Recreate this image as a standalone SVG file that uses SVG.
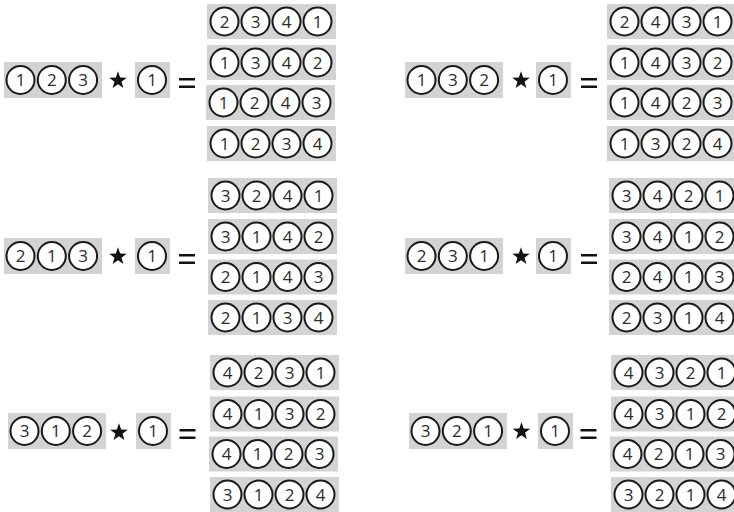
<svg xmlns="http://www.w3.org/2000/svg" xmlns:xlink="http://www.w3.org/1999/xlink" width="734" height="512" viewBox="0 0 734 512">
<style>
.bx{fill:#d2d3d5}
.c{fill:#fff;stroke:#1a1a1a;stroke-width:2}
.t{font-family:"Open Sans","Noto Sans","DejaVu Sans",sans-serif;font-size:17px;fill:#2b2b2b;text-anchor:middle}
.k{fill:#111}
</style>
<defs>
<g id="ring4"><rect class="bx" width="129" height="35"/><circle class="c" cx="17.5" cy="17.5" r="14"/><circle class="c" cx="48.5" cy="17.5" r="14"/><circle class="c" cx="79.5" cy="17.5" r="14"/><circle class="c" cx="110.5" cy="17.5" r="14"/></g>
<g id="ring3"><rect class="bx" width="98" height="36"/><circle class="c" cx="16.5" cy="18" r="14"/><circle class="c" cx="47.8" cy="18" r="14"/><circle class="c" cx="79.1" cy="18" r="14"/></g>
<g id="ring1"><rect class="bx" width="35" height="36"/><circle class="c" cx="17" cy="18" r="14"/></g>
<path id="star" class="k" d="M0,-9.2 L2.16,-2.98 L8.75,-2.84 L3.5,1.14 L5.4,7.44 L0,3.68 L-5.4,7.44 L-3.5,1.14 L-8.75,-2.84 L-2.16,-2.98 Z"/>
<g id="eq"><rect class="k" x="-8" y="-5" width="16" height="2.5"/><rect class="k" x="-8" y="2.5" width="16" height="2.5"/></g>
</defs>

<g id="eq123">
<g id="n123" transform="translate(4,62)"><use href="#ring3"/><text class="t" x="16.5 47.8 79.1" y="24">123</text></g>
<use href="#star" x="118" y="80.5"/>
<g id="n123-1" transform="translate(135,62)"><use href="#ring1"/><text class="t" x="17" y="24">1</text></g>
<use href="#eq" x="187" y="83"/>
<g id="r2341" transform="translate(207,4)"><use href="#ring4"/><text class="t" x="17.5 48.5 79.5 110.5" y="23.5">2341</text></g>
<g id="r1342" transform="translate(207,45)"><use href="#ring4"/><text class="t" x="17.5 48.5 79.5 110.5" y="23.5">1342</text></g>
<g id="r1243" transform="translate(206,85)"><use href="#ring4"/><text class="t" x="17.5 48.5 79.5 110.5" y="23.5">1243</text></g>
<g id="r1234" transform="translate(207,126)"><use href="#ring4"/><text class="t" x="17.5 48.5 79.5 110.5" y="23.5">1234</text></g>
</g>

<g id="eq132">
<g id="n132" transform="translate(405,62)"><use href="#ring3"/><text class="t" x="16.5 47.8 79.1" y="24">132</text></g>
<use href="#star" x="521" y="80.5"/>
<g id="n132-1" transform="translate(536,62)"><use href="#ring1"/><text class="t" x="17" y="24">1</text></g>
<use href="#eq" x="589" y="83"/>
<g id="r2431" transform="translate(607,4)"><use href="#ring4"/><text class="t" x="17.5 48.5 79.5 110.5" y="23.5">2431</text></g>
<g id="r1432" transform="translate(607,45)"><use href="#ring4"/><text class="t" x="17.5 48.5 79.5 110.5" y="23.5">1432</text></g>
<g id="r1423" transform="translate(607,85)"><use href="#ring4"/><text class="t" x="17.5 48.5 79.5 110.5" y="23.5">1423</text></g>
<g id="r1324" transform="translate(607,126)"><use href="#ring4"/><text class="t" x="17.5 48.5 79.5 110.5" y="23.5">1324</text></g>
</g>

<g id="eq213">
<g id="n213" transform="translate(4,238)"><use href="#ring3"/><text class="t" x="16.5 47.8 79.1" y="24">213</text></g>
<use href="#star" x="118" y="256.5"/>
<g id="n213-1" transform="translate(135,238)"><use href="#ring1"/><text class="t" x="17" y="24">1</text></g>
<use href="#eq" x="187" y="259"/>
<g id="r3241" transform="translate(208,178)"><use href="#ring4"/><text class="t" x="17.5 48.5 79.5 110.5" y="23.5">3241</text></g>
<g id="r3142" transform="translate(208,219)"><use href="#ring4"/><text class="t" x="17.5 48.5 79.5 110.5" y="23.5">3142</text></g>
<g id="r2143" transform="translate(208,259.5)"><use href="#ring4"/><text class="t" x="17.5 48.5 79.5 110.5" y="23.5">2143</text></g>
<g id="r2134" transform="translate(208,300)"><use href="#ring4"/><text class="t" x="17.5 48.5 79.5 110.5" y="23.5">2134</text></g>
</g>

<g id="eq231">
<g id="n231" transform="translate(405,238)"><use href="#ring3"/><text class="t" x="16.5 47.8 79.1" y="24">231</text></g>
<use href="#star" x="521" y="256.5"/>
<g id="n231-1" transform="translate(536,238)"><use href="#ring1"/><text class="t" x="17" y="24">1</text></g>
<use href="#eq" x="589" y="259"/>
<g id="r3421" transform="translate(609,178)"><use href="#ring4"/><text class="t" x="17.5 48.5 79.5 110.5" y="23.5">3421</text></g>
<g id="r3412" transform="translate(609,219)"><use href="#ring4"/><text class="t" x="17.5 48.5 79.5 110.5" y="23.5">3412</text></g>
<g id="r2413" transform="translate(609,259.5)"><use href="#ring4"/><text class="t" x="17.5 48.5 79.5 110.5" y="23.5">2413</text></g>
<g id="r2314" transform="translate(609,300)"><use href="#ring4"/><text class="t" x="17.5 48.5 79.5 110.5" y="23.5">2314</text></g>
</g>

<g id="eq312">
<g id="n312" transform="translate(8,413)"><use href="#ring3"/><text class="t" x="16.5 47.8 79.1" y="24">312</text></g>
<use href="#star" x="119" y="432.5"/>
<g id="n312-1" transform="translate(136,413)"><use href="#ring1"/><text class="t" x="17" y="24">1</text></g>
<use href="#eq" x="187.5" y="434"/>
<g id="r4231" transform="translate(210,355)"><use href="#ring4"/><text class="t" x="17.5 48.5 79.5 110.5" y="23.5">4231</text></g>
<g id="r4132" transform="translate(210,396.5)"><use href="#ring4"/><text class="t" x="17.5 48.5 79.5 110.5" y="23.5">4132</text></g>
<g id="r4123" transform="translate(209,436.5)"><use href="#ring4"/><text class="t" x="17.5 48.5 79.5 110.5" y="23.5">4123</text></g>
<g id="r3124" transform="translate(210,477)"><use href="#ring4"/><text class="t" x="17.5 48.5 79.5 110.5" y="23.5">3124</text></g>
</g>

<g id="eq321">
<g id="n321" transform="translate(409,413)"><use href="#ring3"/><text class="t" x="16.5 47.8 79.1" y="24">321</text></g>
<use href="#star" x="521.5" y="431.5"/>
<g id="n321-1" transform="translate(538,413)"><use href="#ring1"/><text class="t" x="17" y="24">1</text></g>
<use href="#eq" x="588.5" y="434"/>
<g id="r4321" transform="translate(611,355)"><use href="#ring4"/><text class="t" x="17.5 48.5 79.5 110.5" y="23.5">4321</text></g>
<g id="r4312" transform="translate(611,396.5)"><use href="#ring4"/><text class="t" x="17.5 48.5 79.5 110.5" y="23.5">4312</text></g>
<g id="r4213" transform="translate(610,436.5)"><use href="#ring4"/><text class="t" x="17.5 48.5 79.5 110.5" y="23.5">4213</text></g>
<g id="r3214" transform="translate(611,477)"><use href="#ring4"/><text class="t" x="17.5 48.5 79.5 110.5" y="23.5">3214</text></g>
</g>
</svg>
